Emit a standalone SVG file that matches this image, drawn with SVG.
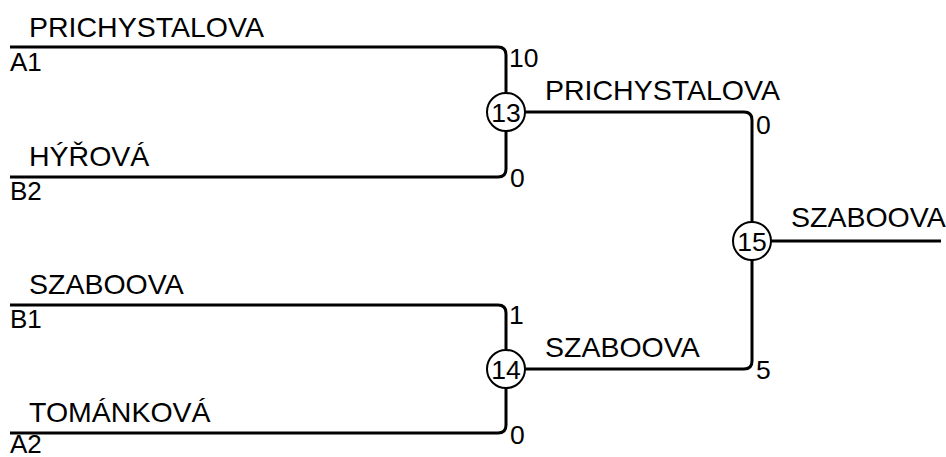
<svg xmlns="http://www.w3.org/2000/svg" width="946" height="457" viewBox="0 0 946 457">
<style>
  .ln { fill: none; stroke: #000; stroke-width: 3; }
  .nm { font-family: "Liberation Sans", Arial, sans-serif; font-size: 28.5px; fill: #000; }
  .sd { font-family: "Liberation Sans", Arial, sans-serif; font-size: 26px; fill: #000; }
  .sc { font-family: "Liberation Sans", Arial, sans-serif; font-size: 26.5px; fill: #000; }
  .cn { font-family: "Liberation Sans", Arial, sans-serif; font-size: 26.5px; fill: #000; text-anchor: middle; }
  .cc { fill: #fff; stroke: #000; stroke-width: 2; }
</style>
<rect width="946" height="457" fill="#fff"/>
<g id="connectors">
  <path class="ln" d="M10 47 H498 Q506 47 506 55 V93"/>
  <path class="ln" d="M10 177 H498 Q506 177 506 169 V131"/>
  <path class="ln" d="M525 112 H744 Q752 112 752 120 V222"/>
  <path class="ln" d="M10 305 H498 Q506 305 506 313 V350"/>
  <path class="ln" d="M10 433 H498 Q506 433 506 425 V388"/>
  <path class="ln" d="M525 369 H744 Q752 369 752 361 V260"/>
  <path class="ln" d="M771 241 H941"/>
</g>
<g id="entry-a1">
  <text class="nm" x="29" y="37">PRICHYSTALOVA</text>
  <text class="sd" x="10" y="71">A1</text>
  <text class="sc" x="509" y="67">10</text>
</g>
<g id="entry-b2">
  <text class="nm" x="29" y="166">HÝŘOVÁ</text>
  <text class="sd" x="10" y="200">B2</text>
  <text class="sc" x="510" y="187">0</text>
</g>
<g id="entry-b1">
  <text class="nm" x="29" y="294">SZABOOVA</text>
  <text class="sd" x="10" y="328">B1</text>
  <text class="sc" x="509" y="324">1</text>
</g>
<g id="entry-a2">
  <text class="nm" x="29" y="422">TOMÁNKOVÁ</text>
  <text class="sd" x="10" y="453">A2</text>
  <text class="sc" x="510" y="444">0</text>
</g>
<g id="match-13">
  <circle class="cc" cx="506" cy="112" r="19"/>
  <text class="cn" x="506" y="122">13</text>
  <text class="nm" x="545" y="100">PRICHYSTALOVA</text>
  <text class="sc" x="756" y="134">0</text>
</g>
<g id="match-14">
  <circle class="cc" cx="506" cy="369" r="19"/>
  <text class="cn" x="506" y="379">14</text>
  <text class="nm" x="545" y="357">SZABOOVA</text>
  <text class="sc" x="756" y="379">5</text>
</g>
<g id="match-15">
  <circle class="cc" cx="752" cy="241" r="19"/>
  <text class="cn" x="752" y="251">15</text>
  <text class="nm" x="791" y="227">SZABOOVA</text>
</g>
</svg>
